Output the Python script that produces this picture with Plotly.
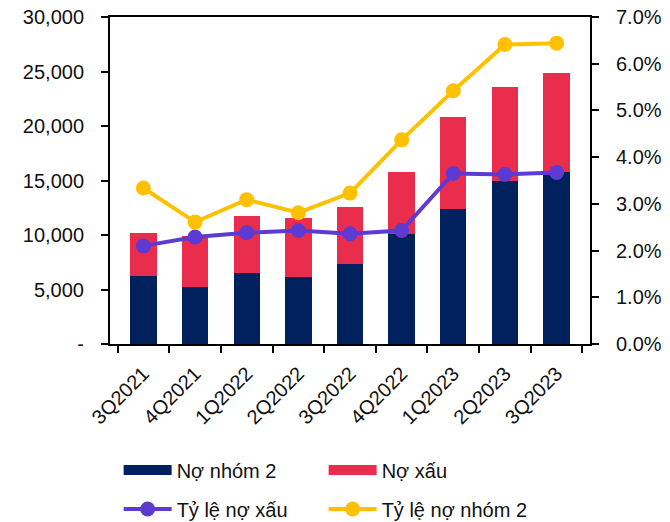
import plotly.graph_objects as go

# ─── Dữ liệu ───────────────────────────────────────────────────────────────────
quarters = ["3Q2021", "4Q2021", "1Q2022", "2Q2022", "3Q2022",
            "4Q2022", "1Q2023", "2Q2023", "3Q2023"]
no_nhom_2 = [6200, 5200, 6550, 6150, 7300, 10100, 12400, 15000, 15800]
no_xau = [4000, 4700, 5150, 5450, 5300, 5700, 8400, 8550, 9050]
ty_le_no_xau = [2.10, 2.29, 2.38, 2.43, 2.36, 2.43, 3.65, 3.63, 3.67]
ty_le_no_nhom_2 = [3.34, 2.61, 3.09, 2.81, 3.23, 4.37, 5.42, 6.41, 6.44]

left_ticks = [0, 5000, 10000, 15000, 20000, 25000, 30000]
left_text = ["-", "5,000", "10,000", "15,000", "20,000", "25,000", "30,000"]
right_ticks = [0, 1, 2, 3, 4, 5, 6, 7]
right_text = [f"{v:.1f}%" for v in right_ticks]

NAVY = "#00215E"
RED = "#EA2D4D"
PURPLE = "#5D3BD3"
YELLOW = "#FFC000"
FONT = dict(family="'Liberation Sans', Arial, sans-serif", size=20, color="#111111")

W, H = 670, 522

AXIS = dict(showline=True, linecolor="black", linewidth=2,
            ticks="outside", ticklen=7, tickcolor="black", tickwidth=2,
            showgrid=False, zeroline=False, automargin=False)

fig = go.Figure()

# Cột chồng
fig.add_trace(go.Bar(x=quarters, y=no_nhom_2, name="Nợ nhóm 2", showlegend=False,
                     marker=dict(color=NAVY, line=dict(width=0))))
fig.add_trace(go.Bar(x=quarters, y=no_xau, name="Nợ xấu", showlegend=False,
                     marker=dict(color=RED, line=dict(width=0))))

# Đường tỷ lệ (trục phải)
fig.add_trace(go.Scatter(x=quarters, y=ty_le_no_xau, name="Tỷ lệ nợ xấu",
                         yaxis="y2", mode="lines+markers", legend="legend2",
                         line=dict(color=PURPLE, width=4),
                         marker=dict(color=PURPLE, size=15)))
fig.add_trace(go.Scatter(x=quarters, y=ty_le_no_nhom_2, name="Tỷ lệ nợ nhóm 2",
                         yaxis="y2", mode="lines+markers", legend="legend2",
                         line=dict(color=YELLOW, width=4),
                         marker=dict(color=YELLOW, size=15)))

# Mục chú giải dạng thanh rộng cho các cột
for nome, cor in [("Nợ nhóm 2", NAVY), ("Nợ xấu", RED)]:
    fig.add_trace(go.Scatter(x=[None], y=[None], name=nome, mode="lines",
                             line=dict(color=cor, width=12), legend="legend",
                             hoverinfo="skip"))

LEG = dict(orientation="h", xanchor="left", yanchor="middle", font=FONT,
           entrywidth=142, itemwidth=48, traceorder="normal",
           bgcolor="rgba(0,0,0,0)", yref="container")

fig.update_layout(
    width=W, height=H,
    paper_bgcolor="white", plot_bgcolor="white",
    font=FONT,
    margin=dict(l=110, r=80, t=17, b=178),
    barmode="stack",
    bargap=0.49,
    xaxis=dict(**AXIS, mirror=True, tickson="boundaries", tickangle=-45,
               ticklabelstandoff=8),
    yaxis=dict(**AXIS, range=[0, 30000], tickvals=left_ticks, ticktext=left_text,
               ticklabelstandoff=13, ticklabeloverflow="allow"),
    yaxis2=dict(**AXIS, range=[0, 7], tickvals=right_ticks, ticktext=right_text,
                overlaying="y", side="right", ticklabelstandoff=13,
                ticklabeloverflow="allow"),
    legend=dict(**LEG, x=0.018, y=1 - 470 / H),
    legend2=dict(**LEG, x=0.018, y=1 - 509 / H),
)

# sem a margem padrão de 8px do <body> e sem a barra de ferramentas
fig.write_html("out.html", config={"displayModeBar": False},
               post_script="document.body.style.margin='0';")
